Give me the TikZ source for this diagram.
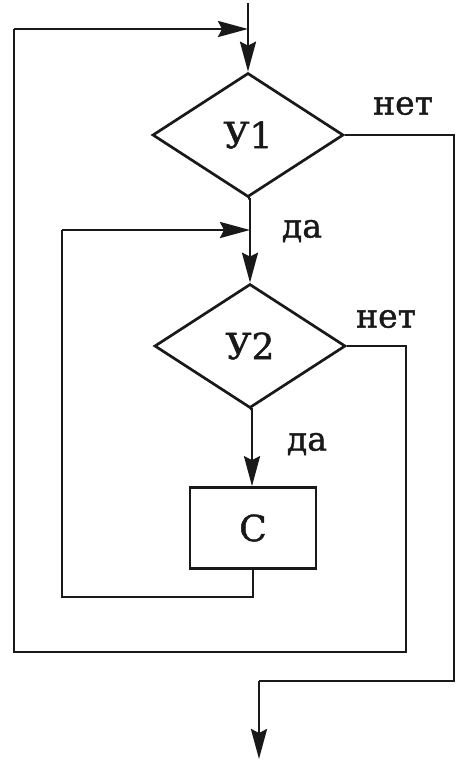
\documentclass[tikz,border=0pt]{standalone}
\usepackage{fontspec}
\setmainfont{DejaVu Serif}[FakeBold=1.2]
\usetikzlibrary{shapes.geometric,arrows.meta}
\begin{document}
\begin{tikzpicture}[x=1pt,y=-1pt,
  line/.style={line width=2.7pt,line join=miter,color=black!90},
  arr/.style={line,-{Stealth[length=30pt,width=16pt,inset=4pt]}},
  decision/.style={diamond,draw,line width=2.7pt,color=black!90,inner sep=0pt,minimum width=191pt,minimum height=124pt,font=\fontsize{36}{40}\selectfont},
  action/.style={rectangle,draw,line width=2.7pt,color=black!90,inner sep=0pt,minimum width=126pt,minimum height=81pt,font=\fontsize{36}{40}\selectfont},
  lbl/.style={inner sep=0pt,color=black!90,font=\fontsize{33}{36}\selectfont}]
\useasboundingbox (0,0) rectangle (456,761);
\node[decision] (d1) at (248,135) {У1};
\node[decision] (d2) at (250,346) {У2};
\node[action] (c) at (253,528) {С};
\coordinate (start) at (248,3);
\coordinate (j1) at (248,29);
\coordinate (m1) at (250,198);
\coordinate (j2) at (250,230);
\coordinate (m2) at (252,408);
\coordinate (o1) at (406,346);
\coordinate (o2) at (14,652);
\coordinate (i1) at (253,597);
\coordinate (i2) at (62,230);
\coordinate (e1) at (454,135);
\coordinate (e2) at (259,681);
\coordinate (end) at (259,759);
% main flow
\draw[arr] (start) -- (d1.north);
\draw[line] (d1.south) -- (m1);
\draw[arr] (m1) -- (d2.north);
\draw[line] (d2.south) -- (m2);
\draw[arr] (m2) -- (c.north -| m2);
% inner loop
\draw[line] (c.south) -- (i1) -| (i2);
\draw[arr] (i2) -- (j2);
% outer loop
\draw[line] (d2.east) -- (o1) |- (o2) |- (14,29);
\draw[arr] (14,29) -- (j1);
% exit
\draw[line] (d1.east) -- (e1) |- (e2);
\draw[arr] (e2) -- (end);
% labels
\node[lbl] (n1) at (403,106) {нет};
\node[lbl] (y1) at (302,231) {да};
\node[lbl] (n2) at (386,319) {нет};
\node[lbl] (y2) at (307,444) {да};
\end{tikzpicture}
\end{document}
